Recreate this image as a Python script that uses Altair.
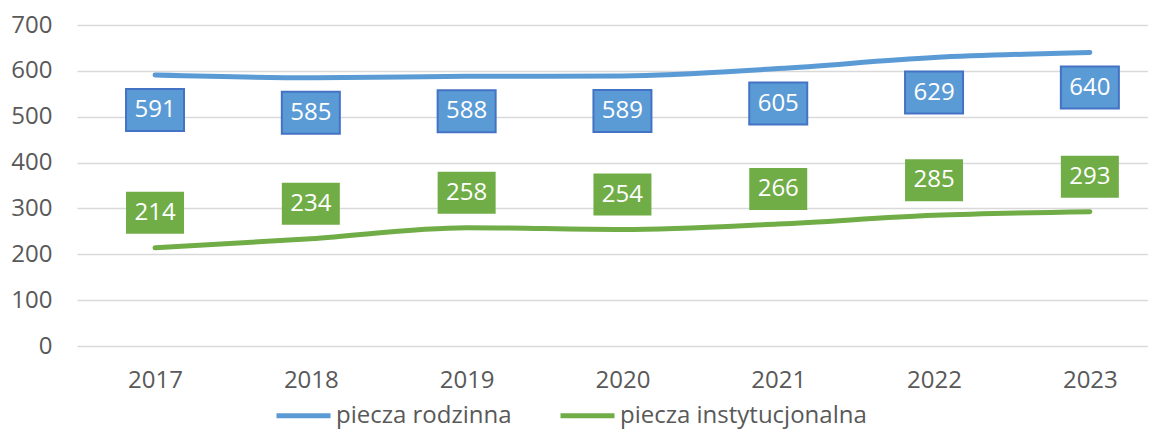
import altair as alt
import pandas as pd

years = ["2017", "2018", "2019", "2020", "2021", "2022", "2023"]
rodzinna = [591, 585, 588, 589, 605, 629, 640]
instytucjonalna = [214, 234, 258, 254, 266, 285, 293]
series_names = ["piecza rodzinna", "piecza instytucjonalna"]
y_ticks = [0, 100, 200, 300, 400, 500, 600, 700]

rows = []
for y, v in zip(years, rodzinna):
    rows.append({"rok": y, "wartosc": v, "seria": series_names[0]})
for y, v in zip(years, instytucjonalna):
    rows.append({"rok": y, "wartosc": v, "seria": series_names[1]})
df = pd.DataFrame(rows)

BLUE = "#5B9BD5"
GREEN = "#70AD47"
TXT = "#595959"
FONT = "Open Sans"

x_enc = alt.X("rok:O", scale=alt.Scale(type="point", padding=0.437, align=0.573),
              axis=alt.Axis(title=None, labelAngle=0, labelFontSize=24, labelColor=TXT,
                            ticks=False, domain=False, grid=False, labelPadding=22,
                            labelFont=FONT))
y_enc = alt.Y("wartosc:Q", scale=alt.Scale(domain=[0, 700], nice=False),
              axis=alt.Axis(title=None, values=y_ticks, labelFontSize=24, labelColor=TXT,
                            ticks=False, domain=False, grid=True, gridColor="#D9D9D9",
                            gridWidth=1.5, labelPadding=25, labelFont=FONT))

color_enc = alt.Color("seria:N",
                      scale=alt.Scale(domain=series_names, range=[BLUE, GREEN]),
                      sort=series_names,
                      legend=alt.Legend(title=None, orient="none", legendX=197, legendY=361,
                                        direction="horizontal", symbolType="stroke",
                                        symbolSize=2916, symbolStrokeWidth=5,
                                        labelFontSize=24, labelColor=TXT, labelFont=FONT,
                                        labelOffset=3, columnPadding=38, labelLimit=0))

base = alt.Chart(df)

lines = base.mark_line(strokeWidth=5, strokeCap="round", interpolate="monotone").encode(
    x=x_enc, y=y_enc, color=color_enc)

box_shape = "M-1,-0.724L1,-0.724L1,0.724L-1,0.724Z"

blue_boxes = base.transform_filter(alt.datum.seria == series_names[0]).mark_point(
    shape=box_shape, size=3364, filled=True, fill=BLUE, stroke="#4472C4",
    strokeWidth=2, opacity=1, yOffset=35).encode(x="rok:O", y="wartosc:Q")
green_boxes = base.transform_filter(alt.datum.seria == series_names[1]).mark_point(
    shape=box_shape, size=3364, filled=True, fill=GREEN, strokeWidth=0,
    opacity=1, yOffset=-35).encode(x="rok:O", y="wartosc:Q")

blue_text = base.transform_filter(alt.datum.seria == series_names[0]).mark_text(
    color="white", fontSize=24, font=FONT, dy=35).encode(
    x="rok:O", y="wartosc:Q", text="wartosc:Q")
green_text = base.transform_filter(alt.datum.seria == series_names[1]).mark_text(
    color="white", fontSize=24, font=FONT, dy=-35).encode(
    x="rok:O", y="wartosc:Q", text="wartosc:Q")

chart = alt.layer(lines, blue_boxes, green_boxes, blue_text, green_text).properties(
    width=1071, height=321,
    autosize=alt.AutoSizeParams(type="none"),
    padding={"left": 69, "top": 17, "right": 0, "bottom": 85},
).configure(font=FONT).configure_view(stroke=None)

chart.save("out.html", embed_options={"renderer": "svg", "actions": False})
